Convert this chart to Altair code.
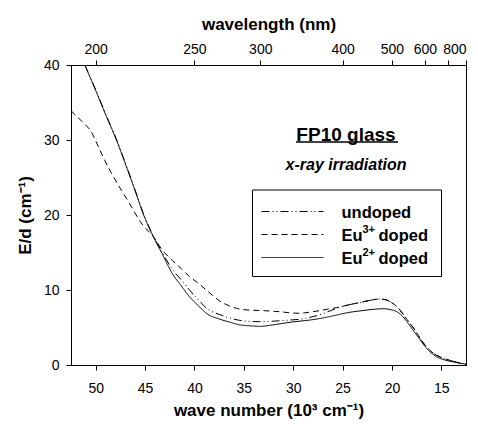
import altair as alt
import pandas as pd

# ---------------- data ----------------
series_names = ["undoped", "Eu³⁺ doped", "Eu²⁺ doped"]

wn_undoped = [51.1, 50.0, 49.0, 47.9, 47.1, 46.0, 45.2, 44.2, 43.3, 42.2, 41.3, 40.5,
              39.6, 38.8, 37.4, 36.4, 35.4, 34.1, 33.4, 32.3, 31.3, 30.3, 29.3, 28.0,
              27.3, 26.5, 25.6, 24.6, 23.0, 21.9, 21.3, 20.6, 20.2, 19.6, 19.2, 18.5,
              17.8, 16.8, 15.8, 15.0, 14.1, 13.3, 12.5]
e_undoped = [40.0, 36.7, 33.5, 30.1, 27.3, 23.3, 20.3, 17.3, 15.1, 12.7, 11.3, 10.0,
             8.7, 7.6, 6.7, 6.25, 5.95, 5.8, 5.78, 5.82, 5.9, 6.0, 6.1, 6.45,
             6.7, 7.1, 7.55, 7.95, 8.4, 8.7, 8.8, 8.7, 8.45, 7.9, 7.35, 6.1,
             4.9, 2.9, 1.56, 1.0, 0.62, 0.3, 0.08]

wn_eu3 = [52.5, 51.8, 51.1, 50.5, 50.0, 49.2, 48.2, 47.4, 46.6, 45.9, 45.2, 44.2,
          43.3, 42.2, 41.3, 40.5, 39.6, 38.8, 38.0, 37.4, 36.4, 35.4, 34.1, 33.0,
          31.9, 31.3, 30.3, 29.3, 28.3, 27.3, 26.5, 25.6, 24.6, 23.0, 21.9, 21.3,
          20.6, 20.2, 19.6, 19.2, 18.5, 17.8, 16.8, 15.8, 15.0, 14.1, 13.3, 12.5]
e_eu3 = [33.9, 33.0, 32.1, 31.2, 29.9, 27.6, 25.1, 23.3, 21.6, 20.0, 18.6, 17.2,
         15.4, 13.9, 12.8, 11.8, 10.9, 10.0, 9.1, 8.5, 7.85, 7.45, 7.3, 7.25,
         7.15, 7.1, 6.95, 6.9, 7.05, 7.25, 7.45, 7.65, 7.95, 8.4, 8.7, 8.8,
         8.7, 8.45, 7.9, 7.35, 6.1, 4.9, 2.9, 1.56, 1.0, 0.62, 0.3, 0.08]

wn_eu2 = [51.1, 50.0, 49.0, 47.9, 47.1, 46.0, 45.2, 44.2, 43.3, 42.2, 41.3, 40.5,
          39.6, 38.8, 37.4, 36.4, 35.4, 34.1, 33.4, 32.3, 31.3, 30.3, 29.3, 28.0,
          26.5, 25.3, 24.6, 23.0, 21.9, 20.9, 20.2, 19.5, 19.0, 18.5, 17.5, 16.5,
          15.5, 14.6, 13.8, 12.5]
e_eu2 = [40.0, 36.6, 33.4, 30.0, 27.2, 23.2, 20.2, 17.2, 14.9, 12.1, 10.5, 9.1,
         7.9, 6.9, 6.1, 5.7, 5.35, 5.2, 5.15, 5.3, 5.5, 5.7, 5.85, 6.05,
         6.4, 6.75, 6.95, 7.25, 7.42, 7.5, 7.4, 7.1, 6.6, 5.8, 4.0, 2.25,
         1.1, 0.65, 0.42, 0.12]

bottom_ticks = [50, 45, 40, 35, 30, 25, 20, 15]
y_ticks = [0, 10, 20, 30, 40]
top_tick_nm = [200, 250, 300, 400, 500, 600, 700, 800]
top_label_nm = [200, 250, 300, 400, 500, 600, 800]

title_text = ["FP10 glass"]
subtitle_text = ["x-ray irradiation"]
legend_main = ["undoped", "Eu", "Eu"]
legend_sup = ["", "3+", "2+"]
legend_tail = ["", "doped", "doped"]

# ---------------- build table ----------------
rows = []
for name, ws, es in zip(series_names, [wn_undoped, wn_eu3, wn_eu2],
                        [e_undoped, e_eu3, e_eu2]):
    for w, e in zip(ws, es):
        rows.append({"series": name, "wn": w, "E": e})
df = pd.DataFrame(rows)

top_tick_wn = [10000.0 / nm for nm in top_tick_nm]

FONT = "Liberation Sans"
dashes = [[8, 3, 1, 3, 1, 3], [6, 4], [1, 0]]

xscale = alt.Scale(domain=[12.5, 52.5], reverse=True, nice=False, zero=False)
yscale = alt.Scale(domain=[0, 40], nice=False, zero=False)

tick_style = dict(ticks=True, tickSize=5, tickColor="black", tickWidth=1, tickOpacity=1,
                  domain=True, domainColor="black", grid=False)

lines = alt.Chart(df).mark_line(color="black", strokeWidth=1, interpolate="monotone").encode(
    x=alt.X("wn:Q", scale=xscale,
            axis=alt.Axis(orient="bottom", values=bottom_ticks, format="d",
                          title="wave number (10³ cm⁻¹)", labelPadding=11, titlePadding=7,
                          **tick_style)),
    y=alt.Y("E:Q", scale=yscale,
            axis=alt.Axis(values=y_ticks, format="d", title="E/d (cm⁻¹)",
                          labelPadding=7, titlePadding=9, **tick_style)),
    strokeDash=alt.StrokeDash("series:N", scale=alt.Scale(domain=series_names, range=dashes),
                              legend=None),
    detail="series:N",
)

label_list = ",".join(str(v) for v in top_label_nm)
top_axis = alt.Chart(df).mark_line(opacity=0).encode(
    x=alt.X("wn:Q", scale=xscale,
            axis=alt.Axis(orient="top", values=top_tick_wn,
                          labelExpr=f"indexof([{label_list}], round(10000/datum.value)) >= 0 ? format(round(10000/datum.value), 'd') : ''",
                          title="wavelength (nm)", labelPadding=4, titlePadding=9,
                          **tick_style)),
    y=alt.value(0),
    detail="series:N",
)

one = alt.Data(values=[{}])

t1 = alt.Chart(pd.DataFrame({"t": title_text})).mark_text(
    font=FONT, fontSize=19, fontWeight="bold", color="black", align="center", baseline="middle"
).encode(text="t:N", x=alt.value(275), y=alt.value(70))
u1 = alt.Chart(one).mark_rule(color="black", strokeWidth=1.3).encode(
    x=alt.value(225), x2=alt.value(327), y=alt.value(77))
t2 = alt.Chart(pd.DataFrame({"t": subtitle_text})).mark_text(
    font=FONT, fontSize=16, fontWeight="bold", fontStyle="italic", color="black",
    align="center", baseline="middle"
).encode(text="t:N", x=alt.value(275), y=alt.value(100))

box = alt.Chart(one).mark_rect(fill="white", stroke="black", strokeWidth=1).encode(
    x=alt.value(181.5), x2=alt.value(370.5), y=alt.value(125), y2=alt.value(211.5))

legend_layers = []
row_y = [146.5, 169.5, 192.5]
for dash, yy, m, s, tl in zip(dashes, row_y, legend_main, legend_sup, legend_tail):
    legend_layers.append(
        alt.Chart(one).mark_rule(color="black", strokeWidth=1, strokeDash=dash).encode(
            x=alt.value(190.5), x2=alt.value(252.5), y=alt.value(yy)))
    legend_layers.append(
        alt.Chart(pd.DataFrame({"t": [m]})).mark_text(
            font=FONT, fontSize=16.5, fontWeight="bold", color="black",
            align="left", baseline="middle"
        ).encode(text="t:N", x=alt.value(270.5), y=alt.value(yy + 1)))
    if s:
        legend_layers.append(
            alt.Chart(pd.DataFrame({"t": [s]})).mark_text(
                font=FONT, fontSize=11, fontWeight="bold", color="black",
                align="left", baseline="middle"
            ).encode(text="t:N", x=alt.value(291.5), y=alt.value(yy - 5)))
        legend_layers.append(
            alt.Chart(pd.DataFrame({"t": [tl]})).mark_text(
                font=FONT, fontSize=16.5, fontWeight="bold", color="black",
                align="left", baseline="middle"
            ).encode(text="t:N", x=alt.value(307.5), y=alt.value(yy + 1)))

chart = alt.layer(lines, top_axis, t1, u1, t2, box, *legend_layers).resolve_scale(
    x="independent"
).properties(
    width=395, height=300,
    autosize=alt.AutoSizeParams(type="none"),
    padding={"left": 71, "top": 65, "right": 12, "bottom": 62},
).configure_axis(
    labelColor="black", titleColor="black",
    labelFont=FONT, titleFont=FONT, labelFontSize=14, titleFontSize=17,
    titleFontWeight="bold", domainWidth=1,
).configure_view(stroke="black", strokeWidth=1)

chart.save("out.html", embed_options={"renderer": "svg", "actions": False})
